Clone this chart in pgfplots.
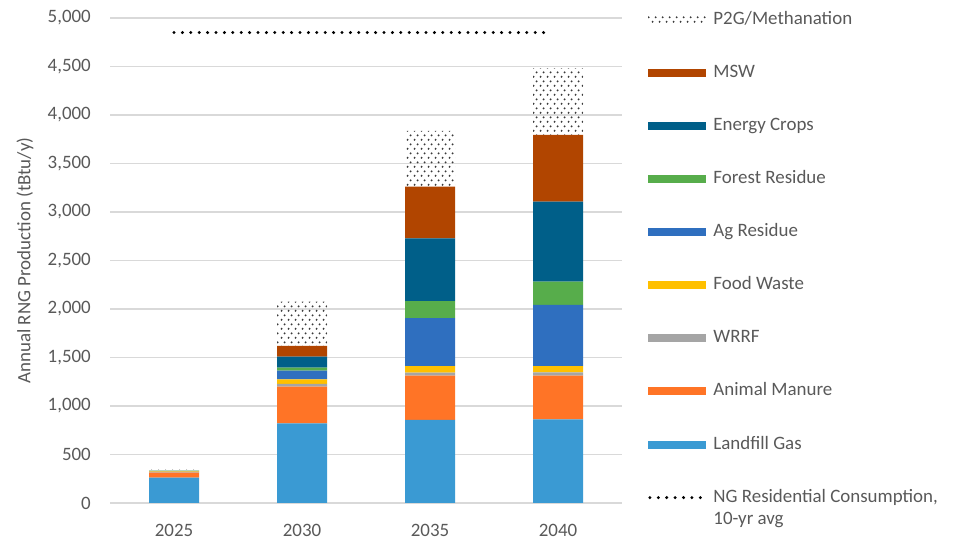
\documentclass[border=0pt]{standalone}
\usepackage{fontspec}
\setmainfont{Carlito}
\usepackage{pgfplots}
\pgfplotsset{compat=1.18}
\usetikzlibrary{patterns}

\definecolor{lfgc}{HTML}{3A9AD3}
\definecolor{manc}{HTML}{FF7426}
\definecolor{wrrfc}{HTML}{A5A5A5}
\definecolor{foodc}{HTML}{FFC000}
\definecolor{agc}{HTML}{2F6FBF}
\definecolor{forc}{HTML}{57AD4B}
\definecolor{enc}{HTML}{005F89}
\definecolor{mswc}{HTML}{B14500}
\definecolor{txtc}{HTML}{595959}
\definecolor{gridc}{HTML}{D9D9D9}
\definecolor{dotc}{HTML}{3A3A3A}

% hex dot pattern for P2G
\pgfdeclarepatternformonly{rngdots}{\pgfpointorigin}{\pgfpoint{7bp}{9.4bp}}{\pgfpoint{7bp}{9.4bp}}{%
  \pgfpathcircle{\pgfpoint{1.75bp}{2.35bp}}{1.15bp}%
  \pgfpathcircle{\pgfpoint{5.25bp}{7.05bp}}{1.15bp}%
  \pgfusepath{fill}%
}

\tikzset{ngline/.style={black, line width=3.3bp, line cap=round, dash pattern=on 0pt off 8.4bp}}

\begin{document}
\begin{tikzpicture}[x=1bp,y=1bp]
\useasboundingbox (0,0) rectangle (955,540);

\pgfplotsset{rngbase/.style={
    at={(110bp,37bp)}, anchor=south west,
    scale only axis, width=512bp, height=485bp,
    xmin=-0.5, xmax=3.5, ymin=0, ymax=5000,
}}

\begin{axis}[
    rngbase,
    ybar stacked, bar width=50bp,
    xtick={0,1,2,3}, xticklabels={2025,2030,2035,2040},
    ytick distance=500,
    major tick length=0pt,
    ymajorgrids, major grid style={draw=gridc, line width=1.2bp},
    separate axis lines,
    y axis line style={draw=none},
    x axis line style={draw=gridc, line width=1.2bp},
    tick label style={font=\fontsize{19}{22}\selectfont, text=txtc},
    yticklabel style={inner sep=0pt, xshift=-19bp},
    xticklabel style={inner sep=0pt, yshift=-21bp},
    /pgf/number format/.cd, 1000 sep={,}, assume math mode=true, /pgfplots/.cd,
    ylabel={Annual RNG Production (tBtu/y)},
    ylabel style={at={(axis description cs:-0.166,0.5)}, anchor=center,
        font=\fontsize{19}{22}\selectfont, text=txtc},
    reverse legend,
    legend cell align=left,
    legend style={draw=none, fill=none, inner sep=0pt,
        at={(1.0508,1.0144)}, anchor=north west,
        row sep=36.1bp,
        font=\fontsize{19}{22}\selectfont, text=txtc,
        nodes={inner sep=0pt, text height=13bp, text depth=4bp}},
    area legend,
    legend image code/.code={\fill[#1] (0bp,-4bp) rectangle (58bp,4bp); \path (65bp,0bp);},
]
\addlegendimage{legend image code/.code={\draw[ngline] (1.7bp,0bp) -- (58bp,0bp); \path (65bp,0bp);}}
\addlegendentry{\begin{tabular}[t]{@{}l@{}}NG Residential Consumption,\\10-yr avg\end{tabular}}

\addplot[fill=lfgc, draw=none] coordinates {(0,262) (1,822) (2,856) (3,863)};
\addlegendentry{Landfill Gas}
\addplot[fill=manc, draw=none] coordinates {(0,50) (1,377) (2,457) (3,450)};
\addlegendentry{Animal Manure}
\addplot[fill=wrrfc, draw=none] coordinates {(0,8) (1,28) (2,31) (3,34)};
\addlegendentry{WRRF}
\addplot[fill=foodc, draw=none] coordinates {(0,5) (1,48) (2,68) (3,65)};
\addlegendentry{Food Waste}
\addplot[fill=agc, draw=none] coordinates {(0,5) (1,89) (2,495) (3,630)};
\addlegendentry{Ag Residue}
\addplot[fill=forc, draw=none] coordinates {(0,3) (1,31) (2,175) (3,240)};
\addlegendentry{Forest Residue}
\addplot[fill=enc, draw=none] coordinates {(0,0) (1,114) (2,647) (3,824)};
\addlegendentry{Energy Crops}
\addplot[fill=mswc, draw=none] coordinates {(0,0) (1,110) (2,532) (3,688)};
\addlegendentry{MSW}
\addplot[pattern=rngdots, pattern color=dotc, draw=none] coordinates {(0,17) (1,457) (2,574) (3,687)};
\addlegendentry{P2G/Methanation}
\end{axis}

\begin{axis}[rngbase, hide axis]
\addplot[ngline] coordinates {(0,4850) (2.95,4850)};
\end{axis}
\end{tikzpicture}
\end{document}
